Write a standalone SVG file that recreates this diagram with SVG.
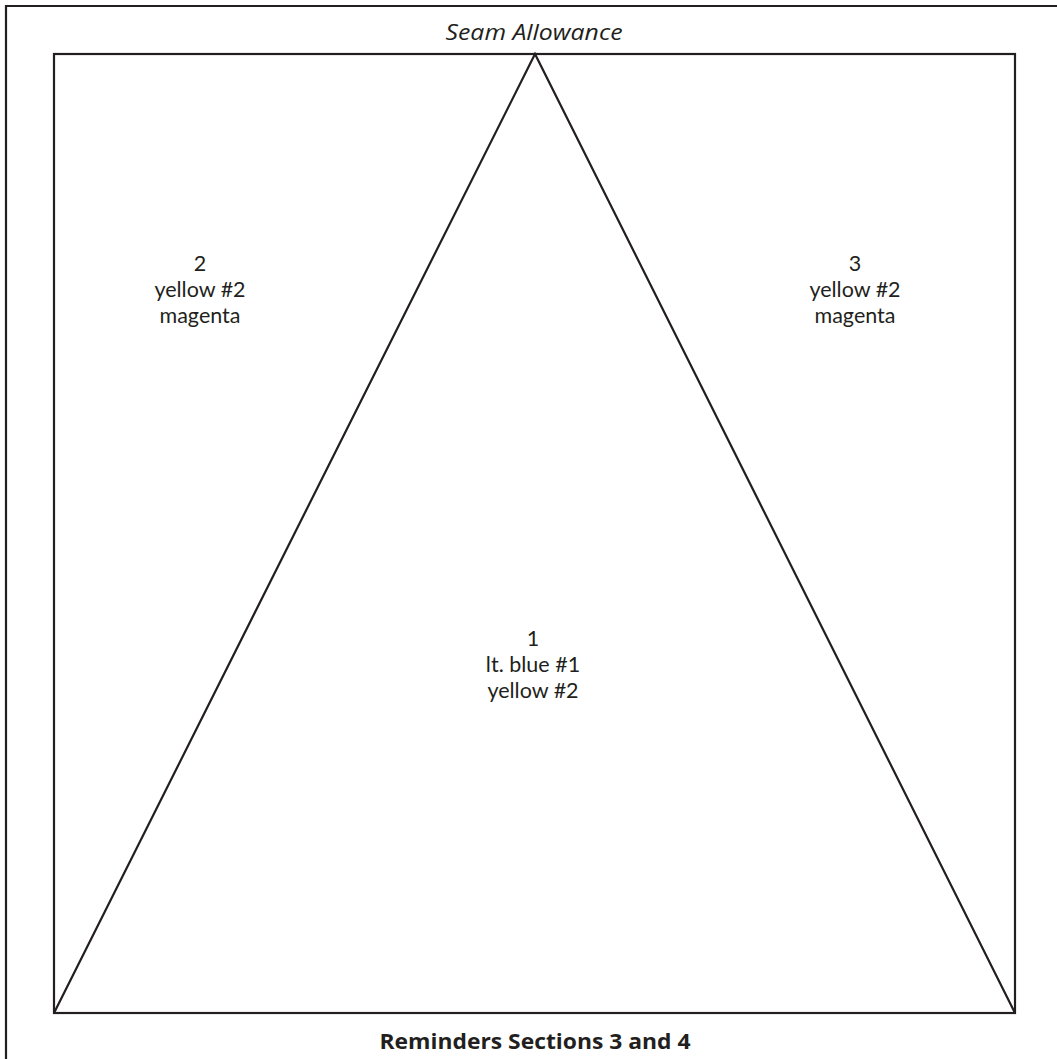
<svg xmlns="http://www.w3.org/2000/svg" width="1057" height="1059" viewBox="0 0 1057 1059">
<style>
.ln{fill:none;stroke:#231f20;stroke-width:2.2}
.lbl{font-family:"Open Sans","Liberation Sans",sans-serif;font-size:21.5px;fill:#231f20;text-anchor:middle}
.sec{font-family:Lato,"Open Sans","Liberation Sans",sans-serif;font-size:21.5px;fill:#231f20;text-anchor:middle}
</style>
<rect width="1057" height="1059" fill="#fff"/>
<g id="frame">
<path class="ln" d="M6,1062 V6 H1062" stroke-width="2.5"/>
<rect class="ln" x="54" y="54" width="961" height="959"/>
</g>
<g id="connectors">
<path class="ln" d="M54,1013 L535,54 L1015,1013"/>
</g>
<g id="title"><text x="534" y="40" class="lbl" font-style="italic" font-size="26" textLength="177" lengthAdjust="spacingAndGlyphs">Seam Allowance</text></g>
<g id="section2"><text class="sec" x="200" y="271">2</text><text class="sec" x="200" y="297">yellow #2</text><text class="sec" x="200" y="323">magenta</text></g>
<g id="section3"><text class="sec" x="855" y="271">3</text><text class="sec" x="855" y="297">yellow #2</text><text class="sec" x="855" y="323">magenta</text></g>
<g id="section1"><text class="sec" x="533" y="646">1</text><text class="sec" x="533" y="672">lt. blue #1</text><text class="sec" x="533" y="698">yellow #2</text></g>
<g id="caption"><text x="535" y="1049" class="lbl" font-weight="bold" font-size="26" textLength="311" lengthAdjust="spacingAndGlyphs">Reminders Sections 3 and 4</text></g>
</svg>
